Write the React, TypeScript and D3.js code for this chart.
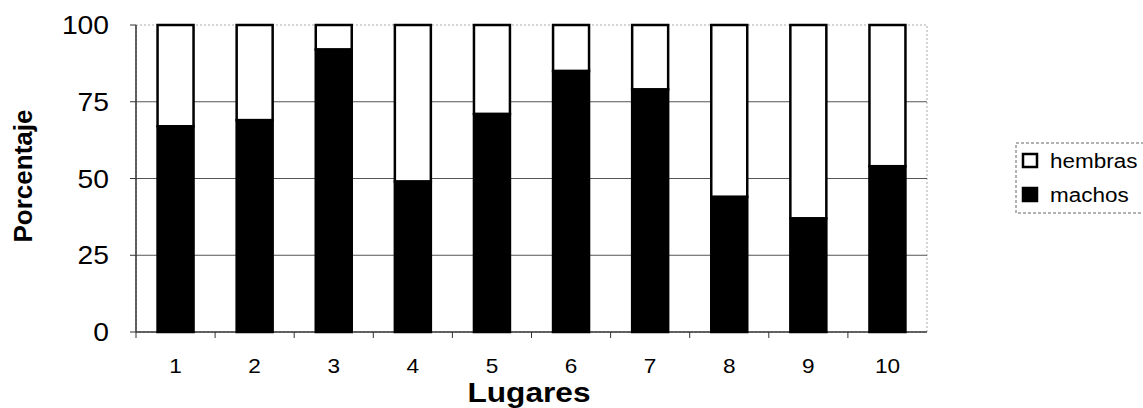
import React from "react";
import * as d3 from "d3";

const lugares = ["1", "2", "3", "4", "5", "6", "7", "8", "9", "10"];
const machos = [67, 69, 92, 49, 71, 85, 79, 44, 37, 54];
const yTicks = [0, 25, 50, 75, 100];
const seriesNames = ["hembras", "machos"];

export default function App() {
  const W = 1143, H = 408;
  const left = 136, right = 927, top = 25, bottom = 332;
  const x = d3.scaleBand().domain(lugares).range([left, right]).paddingInner(0.545).paddingOuter(0.2725);
  const y = d3.scaleLinear().domain([0, 100]).range([bottom, top]);
  const step = x.step();
  const font = "'Liberation Sans', Arial, sans-serif";
  const sx = 1.13;
  return (
    <svg width={W} height={H} style={{ position: "absolute", left: 0, top: 0, background: "#fff" }}>
      <rect x={left} y={top} width={right - left} height={bottom - top} fill="none" stroke="#aaa" strokeWidth={1} strokeDasharray="2 2" />
      {yTicks.filter((t) => t > 0 && t < 100).map((t) => (
        <line key={t} x1={left} x2={right} y1={y(t)} y2={y(t)} stroke="#555" strokeWidth={1} />
      ))}
      <line x1={left} x2={left} y1={top} y2={bottom} stroke="#333" strokeWidth={1.5} />
      <line x1={left} x2={right} y1={bottom} y2={bottom} stroke="#333" strokeWidth={1.5} />
      {yTicks.map((t) => (
        <g key={t}>
          <line x1={left - 6} x2={left} y1={y(t)} y2={y(t)} stroke="#333" />
          <text transform={`translate(109,${y(t) + 9}) scale(${sx},1)`} textAnchor="end" fontFamily={font} fontSize={25}>{t}</text>
        </g>
      ))}
      {lugares.map((l, i) => (
        <line key={"tk" + l} x1={left + step * i} x2={left + step * i} y1={bottom} y2={bottom + 6} stroke="#333" />
      ))}
      {lugares.map((l, i) => (
        <g key={l}>
          <rect x={x(l)!} y={y(100)} width={x.bandwidth()} height={y(machos[i]) - y(100)} fill="#fff" stroke="#000" strokeWidth={2.5} />
          <rect x={x(l)!} y={y(machos[i])} width={x.bandwidth()} height={y(0) - y(machos[i])} fill="#000" stroke="#000" strokeWidth={2.5} />
          <text transform={`translate(${x(l)! + x.bandwidth() / 2},373) scale(${sx},1)`} textAnchor="middle" fontFamily={font} fontSize={20}>{l}</text>
        </g>
      ))}
      <text transform={`translate(529,402) scale(${sx},1)`} textAnchor="middle" fontFamily={font} fontSize={28} fontWeight="bold">Lugares</text>
      <text transform="translate(32,176) rotate(-90)" textAnchor="middle" fontFamily={font} fontSize={26} fontWeight="bold">Porcentaje</text>
      <rect x={1016} y={143} width={140} height={70} fill="none" stroke="#666" strokeWidth={1} strokeDasharray="3 2" />
      {seriesNames.map((s, i) => (
        <g key={s}>
          <rect x={1023} y={154 + i * 34} width={14} height={13} fill={s === "machos" ? "#000" : "#fff"} stroke="#000" strokeWidth={2.5} />
          <text transform={`translate(1050,${168 + i * 34}) scale(1.07,1)`} fontFamily={font} fontSize={21}>{s}</text>
        </g>
      ))}
    </svg>
  );
}
